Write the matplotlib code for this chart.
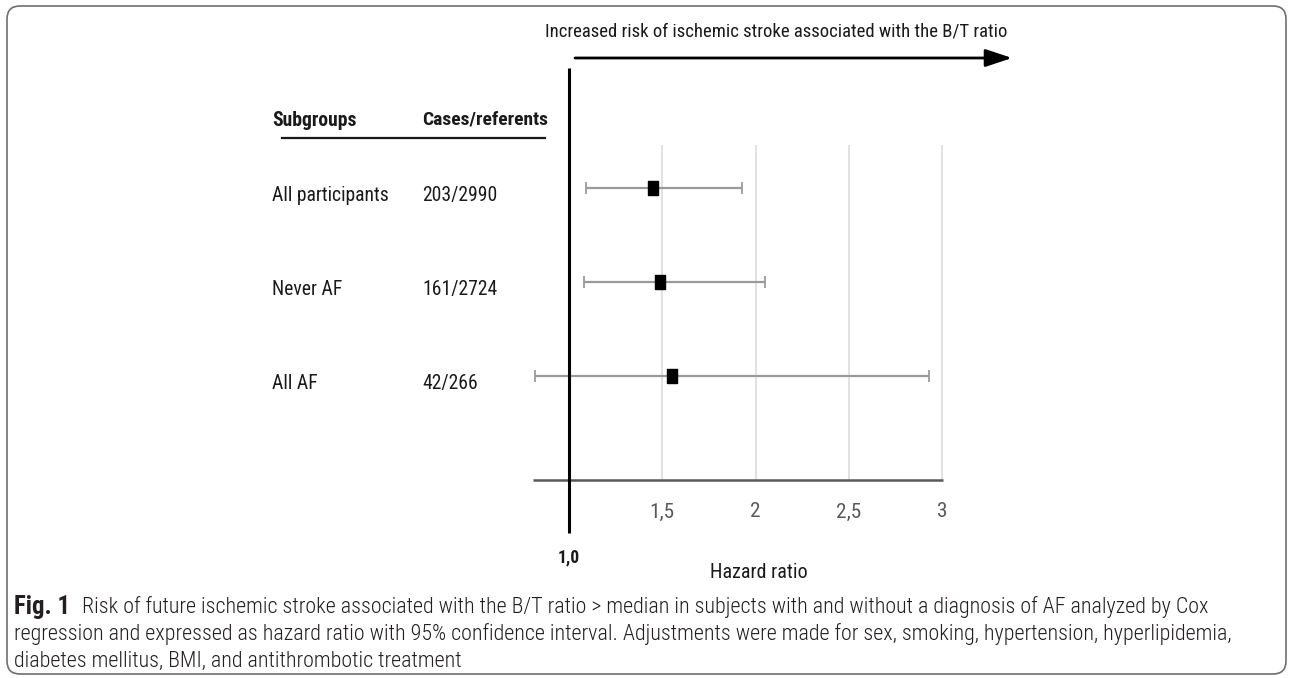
import matplotlib
matplotlib.use("Agg")
import matplotlib.pyplot as plt
import matplotlib.transforms as mtrans
from matplotlib.patches import FancyBboxPatch
from matplotlib.path import Path

# ---------------- data ----------------
subgroups = ["All participants", "Never AF", "All AF"]
cases = ["203/2990", "161/2724", "42/266"]
hr = [1.45, 1.49, 1.55]
ci_low = [1.09, 1.08, 0.82]
ci_high = [1.93, 2.05, 2.93]
tick_values = [1.5, 2, 2.5, 3]
tick_labels = ["1,5", "2", "2,5", "3"]
ref_value = 1.0
ref_label = "1,0"
x_label = "Hazard ratio"
arrow_label = "Increased risk of ischemic stroke associated with the B/T ratio"
header_left = "Subgroups"
header_right = "Cases/referents"
caption_bold = "Fig. 1"
caption_lines = [
    "Risk of future ischemic stroke associated with the B/T ratio > median in subjects with and without a diagnosis of AF analyzed by Cox",
    "regression and expressed as hazard ratio with 95% confidence interval. Adjustments were made for sex, smoking, hypertension, hyperlipidemia,",
    "diabetes mellitus, BMI, and antithrombotic treatment",
]

# ---------------- layout ----------------
W, H = 1292, 678
fig = plt.figure(figsize=(W / 100, H / 100), dpi=100)
fig.patch.set_facecolor("white")

def fx(px):
    return px / W

def fy(py):
    return 1 - py / H

chart_font = ["Roboto Condensed", "Liberation Sans Narrow", "DejaVu Sans"]
cap_font = ["Roboto Condensed", "DejaVu Sans"]

ax = fig.add_axes([fx(533), fy(480), fx(943) - fx(533), fy(145) - fy(480)])
ax.set_axis_off()
ax.set_xlim(0.807, 3.005)
rows = list(range(len(subgroups)))
ax.set_ylim(3.106, -0.457)

xt = ax.get_xaxis_transform()

# gridlines
ax.vlines(tick_values, 0, 1, transform=xt, color="#dcdcdc", lw=1.2, clip_on=False, zorder=1)
# x axis line
ax.plot([0, 1], [0, 0], transform=ax.transAxes, color="#595959", lw=1.8, clip_on=False, zorder=2,
        solid_capstyle="butt")
# reference line at 1.0
ax.plot([ref_value, ref_value], [-0.158, 1.2299], transform=xt, color="black", lw=2.2,
        clip_on=False, zorder=5, solid_capstyle="butt")

# error bars
xerr = [[h - l for h, l in zip(hr, ci_low)], [u - h for h, u in zip(hr, ci_high)]]
ax.errorbar(hr, rows, xerr=xerr, fmt="none", ecolor="#9a9a9a", elinewidth=1.6,
            capsize=4, capthick=1.3, zorder=3, clip_on=False)
rect = Path([(-0.37, -0.5), (0.37, -0.5), (0.37, 0.5), (-0.37, 0.5), (-0.37, -0.5)],
            [Path.MOVETO, Path.LINETO, Path.LINETO, Path.LINETO, Path.CLOSEPOLY])
ax.plot(hr, rows, ls="none", marker=rect, ms=10.5, color="black", zorder=4, clip_on=False)

renderer = fig.canvas.get_renderer()

def fit(t, target):
    bb = t.get_window_extent(renderer)
    t.set_fontsize(t.get_fontsize() * target / bb.width)
    return t.get_fontsize()

# tick labels
tick_texts = []
for v, lab in zip(tick_values, tick_labels):
    tick_texts.append(ax.text(v, -0.0955, lab, transform=xt, ha="center", va="center",
                              fontsize=12, color="#595959", family=chart_font))
s = fit(tick_texts[0], 25)
for t in tick_texts:
    t.set_fontsize(s)
t_ref = ax.text(ref_value, -0.2299, ref_label, transform=xt, ha="center", va="center",
                fontsize=12, fontweight="bold", color="#1a1a1a", family=chart_font)
fit(t_ref, 22)
t_xl = fig.text(fx(759), fy(573), x_label, ha="center", va="center", fontsize=14,
                color="#1a1a1a", family=chart_font)
fit(t_xl, 98)

# arrow
ax.annotate("", xy=(fx(1012), fy(58)), xytext=(fx(575), fy(58)),
            xycoords="figure fraction", textcoords="figure fraction",
            arrowprops=dict(arrowstyle="-|>,head_length=0.9,head_width=0.3",
                            color="black", lw=2.0, mutation_scale=18, shrinkA=0, shrinkB=0))
t_ar = fig.text(fx(776), fy(32), arrow_label, ha="center", va="center", fontsize=14,
                color="#1a1a1a", family=chart_font)
fit(t_ar, 465)

# headers
t_h1 = fig.text(fx(272), fy(120), header_left, ha="left", va="center", fontsize=14,
                fontweight="bold", color="#1a1a1a", family=chart_font)
t_h2 = fig.text(fx(422), fy(120), header_right, ha="left", va="center", fontsize=14,
                fontweight="bold", color="#1a1a1a", family=chart_font)
fit(t_h1, 85)
fit(t_h2, 126)
fig.add_artist(plt.Line2D([fx(282), fx(545)], [fy(138), fy(138)], transform=fig.transFigure,
                          color="#1a1a1a", lw=1.6))

# row texts
bt = mtrans.blended_transform_factory(fig.transFigure, ax.transData)
row_texts = []
for r, name, c in zip(rows, subgroups, cases):
    t1 = fig.text(fx(272), r + 0.08, name, transform=bt, ha="left", va="center",
                  fontsize=14, color="#1a1a1a", family=chart_font)
    t2 = fig.text(fx(422), r + 0.08, c, transform=bt, ha="left", va="center",
                  fontsize=14, color="#1a1a1a", family=chart_font)
    row_texts.append((t1, t2))
s = fit(row_texts[0][0], 118)
for t1, t2 in row_texts:
    t1.set_fontsize(s)
    t2.set_fontsize(s)

# caption
cap_y = [607, 634, 661]
tb = fig.text(fx(14), fy(cap_y[0]), caption_bold, ha="left", va="center", fontsize=12,
              fontweight="bold", color="#231f20", family=cap_font)
cap_texts = []
for i, (line, y) in enumerate(zip(caption_lines, cap_y)):
    x0 = 82 if i == 0 else 14
    cap_texts.append(fig.text(fx(x0), fy(y), line, ha="left", va="center", fontsize=12,
                              fontweight="light", color="#231f20", family=cap_font))
s = fit(cap_texts[1], 1223)
for t in cap_texts:
    t.set_fontsize(s)
fit(tb, 56)

# border
border = FancyBboxPatch((0.07, 0.04), 12.79, 6.68,
                        boxstyle="round,pad=0,rounding_size=0.13",
                        transform=fig.dpi_scale_trans, facecolor="none",
                        edgecolor="#6f6f6f", lw=1.2)
fig.add_artist(border)

fig.savefig("out.png", dpi=100, facecolor="white")
